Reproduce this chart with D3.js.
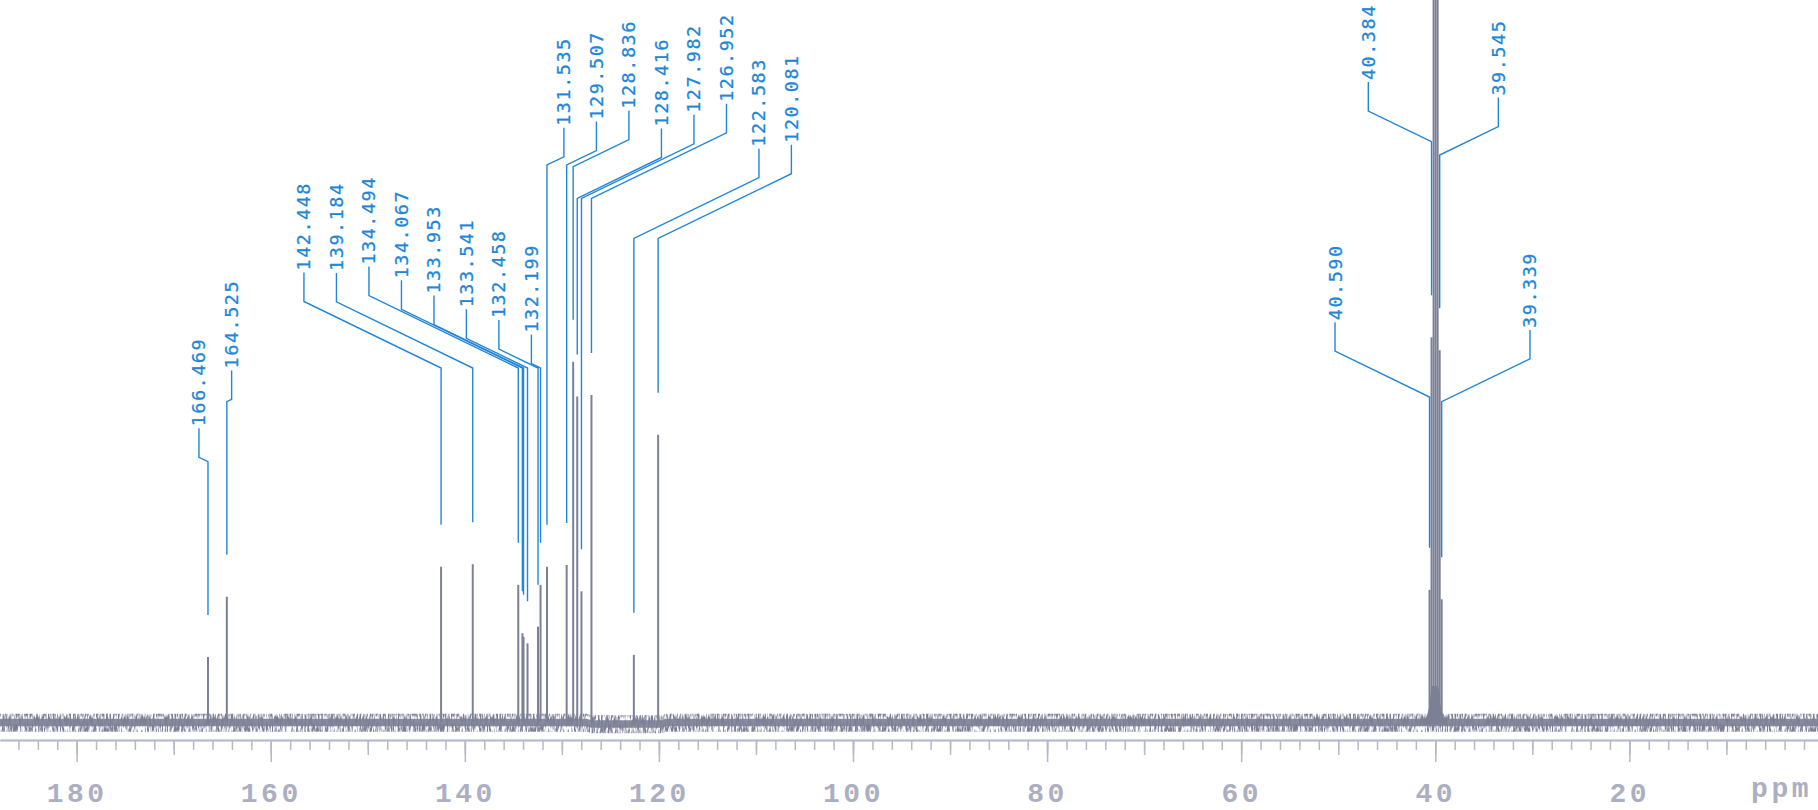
<!DOCTYPE html>
<html><head><meta charset="utf-8">
<script src="https://cdn.jsdelivr.net/npm/d3@7"></script>
<style>html,body{margin:0;padding:0;background:#fff;overflow:hidden}</style>
</head><body><svg id="c" width="1818" height="810"></svg>
<script>
// ---------- data (ppm, intensity in % of plot height) ----------
const peakPpm    = [166.469,164.525,142.448,139.184,134.494,134.067,133.953,133.541,132.458,132.199,131.535,129.507,128.836,128.416,127.982,126.952,122.583,120.081,40.590,40.384,40.172,39.963,39.754,39.545,39.339];
const peakHeight = [9.0,17.35,21.5,21.85,19.0,12.3,11.8,10.9,13.2,19.0,21.5,21.75,49.9,45.1,18.1,45.3,9.3,39.8,18.3,53.3,130,160,130,51.5,17.0];

// DMSO broad foot
const footPpm = [41.2,40.85,40.6,40.4,39.7,39.45,39.2,38.85];
const footInt = [0,0.9,2.2,5.0,5.0,2.2,0.9,0];

// noise band envelope (centre offset)
const noisePpm  = [187.9,127.4,127.0,119.7,119.3,0.56];
const noiseMid  = [0,0,-0.2,-0.2,0,0];

// peak labels
const labelText  = ["166.469","164.525","142.448","139.184","134.494","134.067","133.953","133.541","132.458","132.199","131.535","129.507","128.836","128.416","127.982","126.952","122.583","120.081","40.590","40.384","39.545","39.339"];
const labelPeak  = [166.469,164.525,142.448,139.184,134.494,134.067,133.953,133.541,132.458,132.199,131.535,129.507,128.836,128.416,127.982,126.952,122.583,120.081,40.590,40.384,39.545,39.339];
const labelAtPpm = [167.40,164.03,156.58,153.23,149.88,146.53,143.18,139.84,136.49,133.14,129.79,126.44,123.09,119.74,116.39,113.04,109.69,106.35,50.33,46.90,33.50,30.24];
const labelElbow = [36.05,44.36,49.03,49.03,49.03,49.03,49.03,49.03,49.03,49.03,77.15,77.15,76.91,72.53,72.53,72.53,66.99,66.99,45.01,80.37,78.53,44.36];

const majorTicks = [180,160,140,120,100,80,60,40,20];

// ---------- drawing ----------
const W = 1818, H = 810;
const svg = d3.select("#c");
const X = d3.scaleLinear().domain([187.90, 0.56]).range([0, W]);
const Y = d3.scaleLinear().domain([0, 100]).range([722, 0]);

const specCol = "#7c8095", blue = "#2186d9", axCol = "#b5b9ca", txtCol = "#abafc1";

// texture filter for the noise fringe (visual style only)
const defs = svg.append("defs");
const f = defs.append("filter").attr("id","grain").attr("x",0).attr("y","-50%").attr("width","100%").attr("height","200%");
f.append("feTurbulence").attr("type","fractalNoise").attr("baseFrequency","0.6 0.12").attr("numOctaves",2).attr("seed",7).attr("result","t");
f.append("feColorMatrix").attr("in","t").attr("type","matrix")
  .attr("values","0 0 0 0 0  0 0 0 0 0  0 0 0 0 0  0 0 0 3.2 -1.1").attr("result","a");
f.append("feComposite").attr("in","SourceGraphic").attr("in2","a").attr("operator","in").attr("result","c");
f.append("feGaussianBlur").attr("in","c").attr("stdDeviation",0.45);

// noise band
const noiseData = noisePpm.map((p,i)=>({p, m: noiseMid[i]}));
svg.append("path").datum(noiseData)
  .attr("d", d3.area().x(d=>X(d.p)).y0(d=>Y(d.m-1.35)).y1(d=>Y(d.m+1.15)))
  .attr("fill", specCol).attr("filter","url(#grain)");
svg.append("path").datum(noiseData)
  .attr("d", d3.area().x(d=>X(d.p)).y0(d=>Y(d.m-0.6)).y1(d=>Y(d.m+0.45)))
  .attr("fill", specCol).attr("opacity", 0.9);

// DMSO foot
svg.append("path").datum(footPpm.map((p,i)=>({p, v: footInt[i]})))
  .attr("d", d3.area().x(d=>X(d.p)).y0(Y(-0.3)).y1(d=>Y(d.v)))
  .attr("fill", specCol);

// peaks
svg.append("g").selectAll("line").data(peakPpm.map((p,i)=>({p, h: peakHeight[i]})))
  .join("line")
  .attr("x1", d=>X(d.p)).attr("x2", d=>X(d.p))
  .attr("y1", Y(0)).attr("y2", d=>Math.max(0, Y(d.h)))
  .attr("stroke", specCol).attr("stroke-width", 2);

// axis
const axY = 740;
const gMinor = svg.append("g").attr("transform", `translate(0,${axY})`)
  .call(d3.axisBottom(X).tickValues(d3.range(2, 188, 2)).tickSize(10).tickSizeOuter(0).tickFormat(""));
const gMid = svg.append("g").attr("transform", `translate(0,${axY})`)
  .call(d3.axisBottom(X).tickValues(d3.range(10, 188, 10)).tickSize(15).tickSizeOuter(0).tickFormat(""));
const gMaj = svg.append("g").attr("transform", `translate(0,${axY})`)
  .call(d3.axisBottom(X).tickValues(majorTicks).tickSize(22).tickSizeOuter(0).tickFormat(d3.format("d")));
[gMinor,gMid,gMaj].forEach(g=>{
  g.select(".domain").attr("stroke", axCol).attr("stroke-width", 1.5);
  g.selectAll(".tick line").attr("stroke", axCol).attr("stroke-width", 1.5);
});
gMaj.selectAll(".tick text")
  .attr("fill", txtCol).attr("font-family", "Liberation Mono, Courier New, monospace")
  .attr("font-size", 28).attr("font-weight", "bold").attr("letter-spacing", 3.5)
  .attr("dy", 0).attr("y", 61.7);
svg.append("text").attr("x", 1812).attr("y", 797).attr("text-anchor", "end")
  .attr("fill", txtCol).attr("font-family", "Liberation Mono, Courier New, monospace")
  .attr("font-size", 28).attr("font-weight", "bold").attr("letter-spacing", 3.5)
  .text("ppm");

// labels with leaders
const slope = 0.485;
const gL = svg.append("g");
labelText.forEach((t,i)=>{
  const pk = peakPpm.indexOf(labelPeak[i]);
  const px = X(labelPeak[i]);
  const lx = X(labelAtPpm[i]);
  const e2 = Y(labelElbow[i]);
  const e1 = e2 - slope*Math.abs(lx-px);
  const tb = e1 - 31;
  const path = d3.path();
  path.moveTo(lx, tb+2); path.lineTo(lx, e1); path.lineTo(px, e2); path.lineTo(px, Math.max(e2, Y(peakHeight[pk]) - 42));
  gL.append("path").attr("d", path.toString()).attr("fill","none")
    .attr("stroke", blue).attr("stroke-width", 1.4);
  gL.append("text").attr("transform", `translate(${lx},${tb}) rotate(-90)`)
    .attr("dominant-baseline", "central")
    .attr("font-family", "DejaVu Sans Mono, monospace").attr("font-size", 18.5)
    .attr("letter-spacing", 1.5).attr("fill", blue)
    .attr("stroke", blue).attr("stroke-width", 0.25).text(t);
});
</script></body></html>
